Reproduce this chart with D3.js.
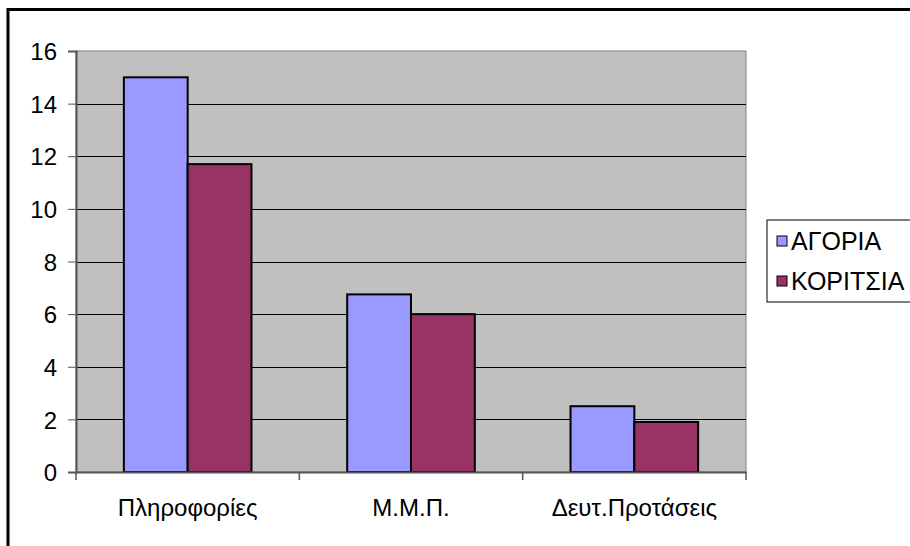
<!DOCTYPE html>
<html>
<head>
<meta charset="utf-8">
<script src="https://cdn.jsdelivr.net/npm/d3@7"></script>
<style>
  body { margin: 0; background: #fff; }
  svg text { font-family: "Liberation Sans", Arial, sans-serif; fill: #000; }
</style>
</head>
<body>
<div id="chart"></div>
<script>
// data
const categories = ['Πληροφορίες', 'Μ.Μ.Π.', 'Δευτ.Προτάσεις'];
const seriesNames = ['ΑΓΟΡΙΑ', 'ΚΟΡΙΤΣΙΑ'];
const boys = [15, 6.75, 2.5];
const girls = [11.7, 6, 1.9];
const yTicks = [0, 2, 4, 6, 8, 10, 12, 14, 16];

const colors = ['#9999ff', '#993366'];
const width = 910, height = 546;
const plot = { left: 76, right: 746, top: 51, bottom: 472 };

const svg = d3.select('#chart').append('svg')
  .attr('width', width)
  .attr('height', height);

svg.append('rect')
  .attr('width', width).attr('height', height)
  .attr('fill', '#fff');

// chart border (only top/left visible, rest runs off the picture)
svg.append('rect')
  .attr('x', 8).attr('y', 9.5)
  .attr('width', width + 20).attr('height', height + 20)
  .attr('fill', 'none')
  .attr('stroke', '#000')
  .attr('stroke-width', 3);

const x0 = d3.scaleBand()
  .domain(categories)
  .range([plot.left, plot.right]);

// excel style gap width 150%
const x1 = d3.scaleBand()
  .domain(seriesNames)
  .range([0, x0.bandwidth()])
  .paddingOuter(0.75);

const y = d3.scaleLinear().domain([0, 16]).range([plot.bottom, plot.top]);

svg.append('rect')
  .attr('x', plot.left).attr('y', plot.top)
  .attr('width', plot.right - plot.left)
  .attr('height', plot.bottom - plot.top)
  .attr('fill', '#c0c0c0')
  .attr('stroke', '#808080')
  .attr('stroke-width', 1);

// gridlines
svg.append('g')
  .selectAll('line')
  .data(yTicks.filter(d => d > 0 && d < 16))
  .join('line')
  .attr('x1', plot.left).attr('x2', plot.right)
  .attr('y1', d => Math.round(y(d)) + 0.5)
  .attr('y2', d => Math.round(y(d)) + 0.5)
  .attr('stroke', '#000')
  .attr('stroke-width', 1);

const yAxis = d3.axisLeft(y).tickValues(yTicks).tickSize(8).tickPadding(11);
svg.append('g')
  .attr('transform', `translate(${plot.left},0)`)
  .call(yAxis)
  .call(g => g.select('.domain').attr('stroke', '#555').attr('stroke-width', 2))
  .call(g => g.selectAll('.tick line').attr('stroke', '#555'))
  .call(g => g.selectAll('.tick text')
    .attr('font-size', '24px').attr('fill', '#000')
    .attr('dy', '0.36em'));

// bars
const rows = categories.map((c, i) => ({ cat: c, vals: [boys[i], girls[i]] }));

const groups = svg.append('g')
  .selectAll('g')
  .data(rows)
  .join('g')
  .attr('transform', d => `translate(${x0(d.cat)},0)`);

groups.selectAll('rect')
  .data(d => d.vals.map((v, i) => ({ name: seriesNames[i], v, i })))
  .join('rect')
  .attr('x', d => x1(d.name))
  .attr('y', d => y(d.v))
  .attr('width', x1.bandwidth())
  .attr('height', d => y(0) - y(d.v))
  .attr('fill', d => colors[d.i])
  .attr('stroke', '#000')
  .attr('stroke-width', 2);

// x axis
const xAxis = d3.axisBottom(x0).tickSize(0).tickPadding(0);
svg.append('g')
  .attr('transform', `translate(0,${plot.bottom})`)
  .call(xAxis)
  .call(g => g.select('.domain').attr('stroke', '#555').attr('stroke-width', 2))
  .call(g => g.selectAll('.tick text')
    .attr('font-size', '24px').attr('fill', '#000')
    .attr('dy', null)
    .attr('y', 44));

svg.append('g')
  .selectAll('line')
  .data([0, 1, 2, 3])
  .join('line')
  .attr('x1', i => i < 3 ? x0(categories[i]) : plot.right)
  .attr('x2', i => i < 3 ? x0(categories[i]) : plot.right)
  .attr('y1', plot.bottom)
  .attr('y2', plot.bottom + 8)
  .attr('stroke', '#555')
  .attr('stroke-width', 1.5);

// legend
const legend = svg.append('g').attr('transform', 'translate(767,220)');
legend.append('rect')
  .attr('width', 160).attr('height', 82)
  .attr('fill', '#fff')
  .attr('stroke', '#000')
  .attr('stroke-width', 1);

const items = legend.selectAll('g.item')
  .data(seriesNames)
  .join('g')
  .attr('class', 'item')
  .attr('transform', (d, i) => `translate(10,${16 + i * 40})`);

items.append('rect')
  .attr('width', 10).attr('height', 10)
  .attr('fill', (d, i) => colors[i])
  .attr('stroke', '#000')
  .attr('stroke-width', 1);

items.append('text')
  .attr('x', 14)
  .attr('y', 5)
  .attr('dy', '0.36em')
  .attr('font-size', '25px')
  .text(d => d);
</script>
</body>
</html>
